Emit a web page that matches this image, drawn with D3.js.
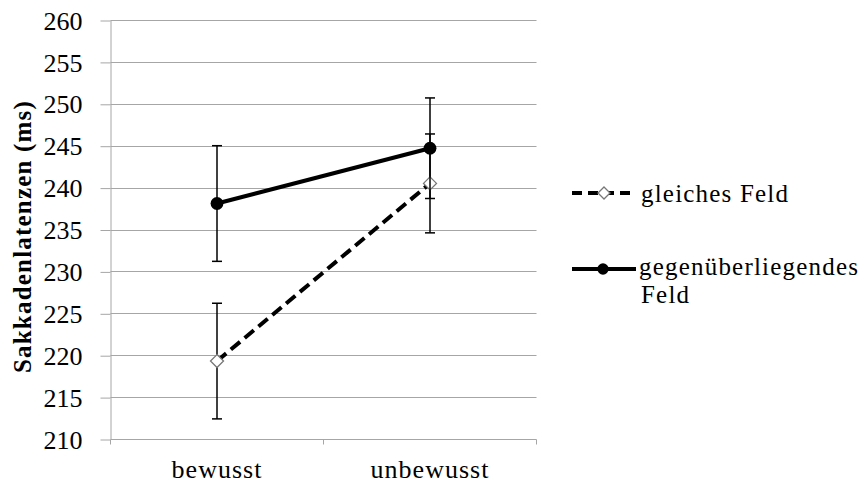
<!DOCTYPE html>
<html>
<head>
<meta charset="utf-8">
<script src="https://cdn.jsdelivr.net/npm/d3@7"></script>
<style>
  html, body { margin: 0; padding: 0; background: #fff; }
  svg { display: block; }
</style>
</head>
<body>
<div id="chart"></div>
<script>
// categories and values
const categories = ["bewusst", "unbewusst"];
const yTicks = [210, 215, 220, 225, 230, 235, 240, 245, 250, 255, 260];

const gleichesMean = [219.3, 240.5];
const gleichesErr = [6.9, 5.9];

const gegenMean = [238.1, 244.7];
const gegenErr = [6.9, 6.0];

const yTitle = "Sakkadenlatenzen (ms)";
const legendGleiches = ["gleiches Feld"];
const legendGegen = ["gegenüberliegendes", "Feld"];

const width = 865, height = 483;
const plot = { left: 110.5, right: 536.5, top: 20, bottom: 439 };
const gridColor = "#a6a6a6";
const serif = '"Liberation Serif"';

const svg = d3.select("#chart")
  .append("svg")
  .attr("width", width)
  .attr("height", height);

const x = d3.scalePoint()
  .domain(categories)
  .range([plot.left, plot.right])
  .padding(0.5);

const y = d3.scaleLinear()
  .domain([210, 260])
  .range([plot.bottom, plot.top]);

// horizontal grid lines
svg.append("g")
  .selectAll("line")
  .data(yTicks.filter(d => d !== 210))
  .join("line")
  .attr("x1", plot.left)
  .attr("x2", plot.right)
  .attr("y1", d => Math.round(y(d)) + 0.5)
  .attr("y2", d => Math.round(y(d)) + 0.5)
  .attr("stroke", gridColor)
  .attr("stroke-width", 1);

// y axis
const yAxis = svg.append("g")
  .attr("transform", `translate(${plot.left},0)`)
  .call(d3.axisLeft(y).tickValues(yTicks).tickSize(10).tickPadding(18).tickSizeOuter(0));
yAxis.select(".domain").attr("stroke", gridColor);
yAxis.selectAll(".tick line").attr("stroke", gridColor)
  .attr("transform", "translate(0,0.5)");
yAxis.selectAll(".tick text")
  .attr("fill", "#000")
  .attr("font-family", serif)
  .attr("font-size", 26)
  .attr("dy", "0.35em");

// x axis (ticks between categories)
const xBottom = Math.round(y(210)) + 0.5;
svg.append("line")
  .attr("x1", plot.left).attr("x2", plot.right)
  .attr("y1", xBottom).attr("y2", xBottom)
  .attr("stroke", gridColor);
const step = x.step();
const boundaries = [plot.left, plot.left + step, plot.right];
svg.append("g")
  .selectAll("line")
  .data(boundaries)
  .join("line")
  .attr("x1", d => d).attr("x2", d => d)
  .attr("y1", xBottom).attr("y2", xBottom + 5)
  .attr("stroke", gridColor);

svg.append("g")
  .selectAll("text")
  .data(categories)
  .join("text")
  .attr("x", d => x(d))
  .attr("y", 478)
  .attr("text-anchor", "middle")
  .attr("font-family", serif)
  .attr("font-size", 26)
  .attr("letter-spacing", 1)
  .text(d => d);

// y axis title
svg.append("text")
  .attr("transform", `translate(31,${(plot.top + plot.bottom) / 2 + 7}) rotate(-90)`)
  .attr("text-anchor", "middle")
  .attr("font-family", serif)
  .attr("font-size", 25)
  .attr("font-weight", "bold")
  .attr("letter-spacing", 1.2)
  .text(yTitle);

// series
const series = [
  { name: "gleiches", mean: gleichesMean, err: gleichesErr, dash: "12,6", marker: "diamond" },
  { name: "gegen", mean: gegenMean, err: gegenErr, dash: null, marker: "circle" }
];

const line = d3.line()
  .x((d, i) => x(categories[i]))
  .y(d => y(d));

series.forEach(s => {
  const g = svg.append("g");

  g.append("path")
    .datum(s.mean)
    .attr("d", line)
    .attr("fill", "none")
    .attr("stroke", "#000")
    .attr("stroke-width", 4)
    .attr("stroke-dasharray", s.dash);

  // error bars
  const eb = g.selectAll(".eb")
    .data(s.mean.map((m, i) => ({ cat: categories[i], m, e: s.err[i] })))
    .join("g");
  eb.append("line")
    .attr("x1", d => x(d.cat)).attr("x2", d => x(d.cat))
    .attr("y1", d => y(d.m + d.e)).attr("y2", d => y(d.m - d.e))
    .attr("stroke", "#000").attr("stroke-width", 1.5);
  [1, -1].forEach(sign => {
    eb.append("line")
      .attr("x1", d => x(d.cat) - 5).attr("x2", d => x(d.cat) + 5)
      .attr("y1", d => y(d.m + sign * d.e)).attr("y2", d => y(d.m + sign * d.e))
      .attr("stroke", "#000").attr("stroke-width", 1.5);
  });

  // markers
  const mk = g.selectAll(".mk")
    .data(s.mean.map((m, i) => ({ cat: categories[i], m })))
    .join("path")
    .attr("transform", d => `translate(${x(d.cat)},${y(d.m)})`);
  if (s.marker === "circle") {
    mk.attr("d", d3.symbol(d3.symbolCircle, 130)).attr("fill", "#000");
  } else {
    mk.attr("d", "M0,-6.5L6.5,0L0,6.5L-6.5,0Z")
      .attr("fill", "#fff").attr("stroke", "#777").attr("stroke-width", 1.3);
  }
});

// legend
const legend = svg.append("g");
legend.append("line")
  .attr("x1", 572).attr("x2", 630).attr("y1", 193).attr("y2", 193)
  .attr("stroke", "#000").attr("stroke-width", 4).attr("stroke-dasharray", "10,6");
legend.append("path")
  .attr("transform", "translate(604,193)")
  .attr("d", "M0,-6L6,0L0,6L-6,0Z")
  .attr("fill", "#fff").attr("stroke", "#777").attr("stroke-width", 1.3);
legend.append("text")
  .attr("x", 641).attr("y", 202)
  .attr("font-family", serif)
  .attr("font-size", 25)
  .attr("letter-spacing", 1.2)
  .text(legendGleiches[0]);

legend.append("line")
  .attr("x1", 572).attr("x2", 636).attr("y1", 269).attr("y2", 269)
  .attr("stroke", "#000").attr("stroke-width", 4);
legend.append("path")
  .attr("transform", "translate(603,269)")
  .attr("d", d3.symbol(d3.symbolCircle, 100))
  .attr("fill", "#000");
const t2 = legend.append("text")
  .attr("x", 639).attr("y", 275)
  .attr("font-family", serif)
  .attr("font-size", 25)
  .attr("letter-spacing", 1.2);
legendGegen.forEach((l, i) => {
  t2.append("tspan").attr("x", i === 0 ? 639 : 641).attr("dy", i === 0 ? 0 : 28).text(l);
});
</script>
</body>
</html>
